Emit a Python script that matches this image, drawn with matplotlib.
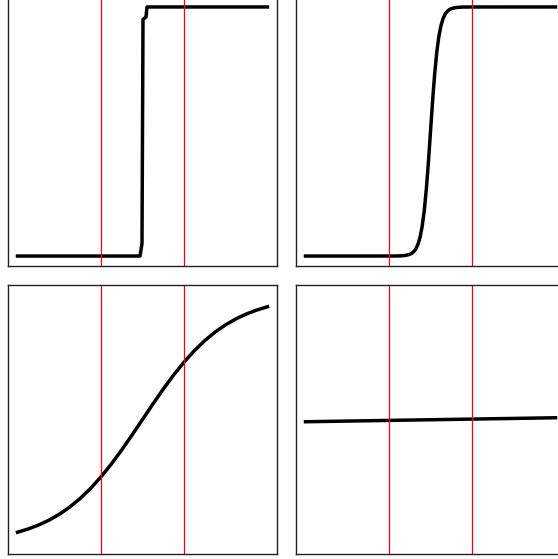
import matplotlib
matplotlib.use('Agg')
import matplotlib.pyplot as plt

# step-like curve (very steep)
x_step = [-1.0, 0.470, 0.494, 0.506, 0.542, 0.554, 2.0]
y_step = [0.0, 0.0, 0.05, 0.95, 0.96, 1.0, 1.0]

# steep sigmoid
x_steep = [-1.0, 0.0, 0.1, 0.15, 0.2, 0.25, 0.275, 0.3, 0.325, 0.35, 0.375,
           0.4, 0.425, 0.45, 0.475, 0.5, 0.525, 0.55, 0.575, 0.6, 0.625,
           0.65, 0.675, 0.7, 0.725, 0.75, 0.8, 0.85, 0.9, 1.0, 2.0]
y_steep = [0.0, 0.0001, 0.0003, 0.0009, 0.0025, 0.0067, 0.011, 0.018, 0.0293,
           0.0474, 0.0759, 0.1192, 0.1824, 0.2689, 0.3775, 0.5, 0.6225, 0.7311,
           0.8176, 0.8808, 0.9241, 0.9526, 0.9707, 0.982, 0.989, 0.9933,
           0.9975, 0.9991, 0.9997, 0.9999, 1.0]

# gentle sigmoid
x_soft = [-1.0, -0.875, -0.75, -0.625, -0.5, -0.375, -0.25, -0.125, 0.0,
          0.125, 0.25, 0.375, 0.5, 0.625, 0.75, 0.875, 1.0, 1.125, 1.25,
          1.375, 1.5, 1.625, 1.75, 1.875, 2.0]
y_soft = [0.0474, 0.0601, 0.0759, 0.0953, 0.1192, 0.148, 0.1824, 0.2227,
          0.2689, 0.3208, 0.3775, 0.4378, 0.5, 0.5622, 0.6225, 0.6792,
          0.7311, 0.7773, 0.8176, 0.852, 0.8808, 0.9047, 0.9241, 0.9399, 0.9526]

# nearly flat
x_flat = [-1.0, 0.5, 2.0]
y_flat = [0.491, 0.499, 0.507]

vlines = [0.0, 1.0]

curves = [(x_step, y_step), (x_steep, y_steep), (x_soft, y_soft), (x_flat, y_flat)]

fig = plt.figure(figsize=(5.58, 5.59), dpi=100)
lefts = [8 / 558, 296 / 558]
bottoms = [1 - 266 / 559, 1 - 554 / 559]
w = 269 / 558
h = 269 / 559

for i, (xs, ys) in enumerate(curves):
    row, col = divmod(i, 2)
    ax = fig.add_axes([lefts[col], bottoms[row], w, h])
    ax.plot(xs, ys, color='black', lw=2.5)
    for v in vlines:
        ax.axvline(v, color='red', lw=0.9)
    ax.set_xlim(-1.114, 2.114)
    ax.set_ylim(-0.04, 1.04)
    ax.set_xticks([])
    ax.set_yticks([])
    for s in ax.spines.values():
        s.set_linewidth(1)
        s.set_color('#222222')

fig.savefig('out.png', dpi=100)
